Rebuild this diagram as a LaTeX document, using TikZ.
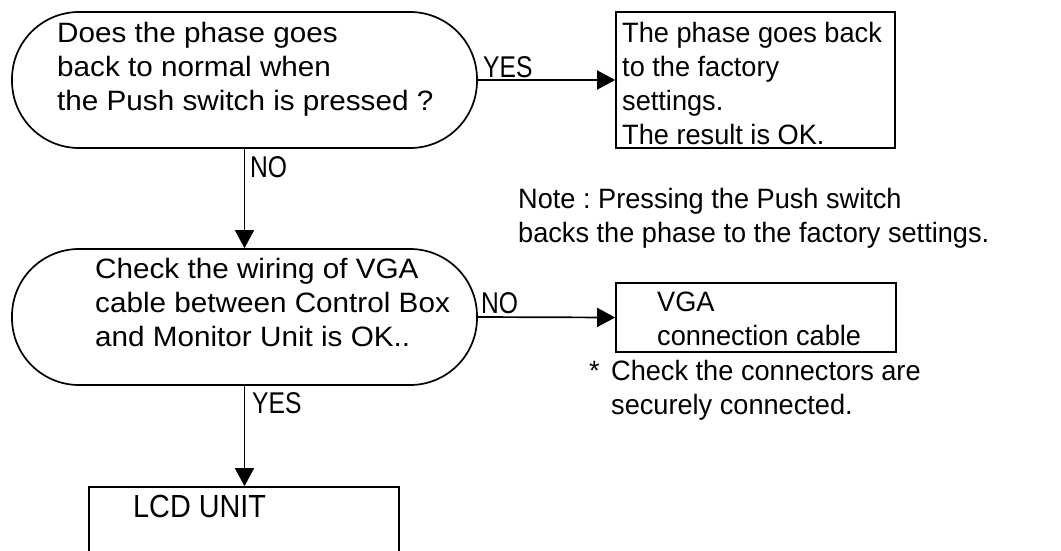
\documentclass[tikz,border=0pt]{standalone}
\usepackage{fontspec}
\setmainfont{Liberation Sans}[FakeStretch=0.97]
\newfontfamily\shapefont{Liberation Sans}[FakeStretch=1.06]
\newfontfamily\labfont{Liberation Sans}[FakeStretch=0.82]
\newfontfamily\lcdfont{Liberation Sans}[FakeStretch=0.9]
\usetikzlibrary{arrows.meta}
\frenchspacing
\newcommand{\mylines}[1]{\begin{tabular}[t]{@{}l@{}}#1\end{tabular}}
\begin{document}
\begin{tikzpicture}[x=1pt,y=-1pt,
  stadium/.style={draw, line width=1.7pt, rounded corners=67pt, inner sep=0pt},
  boxnode/.style={draw, line width=1.7pt, inner sep=0pt},
  btext/.style={anchor=base west, inner sep=0pt, font=\frenchspacing\fontsize{28}{34}\selectfont},
  stext/.style={anchor=base west, inner sep=0pt, font=\frenchspacing\shapefont\fontsize{28}{34.3}\selectfont},
  ltext/.style={anchor=base west, inner sep=0pt, font=\labfont\fontsize{30}{34}\selectfont},
  arr/.style={line width=1.7pt, -{Triangle[length=18pt,width=19pt]}}]
\useasboundingbox (0,0) rectangle (1061,550);
\clip (0,0) rectangle (1061,550);
% shapes
\node[stadium, minimum width=465pt, minimum height=136pt] (q1) at (244.5,80) {};
\node[boxnode, minimum width=279pt, minimum height=136pt] (r1) at (755.5,80) {};
\node[stadium, minimum width=465pt, minimum height=136pt] (q2) at (244.5,317) {};
\node[boxnode, minimum width=280pt, minimum height=69pt] (r2) at (756,317.5) {};
\node[boxnode, minimum width=310pt, minimum height=150pt] (r3) at (244,562) {};
% texts
\node[stext] (t1) at (57,42) {\mylines{Does the phase goes\\back to normal when\\the Push switch is pressed ?}};
\node[btext] (t2) at (622,42) {\mylines{The phase goes back\\to the factory\\settings.\\The result is OK.}};
\node[btext] (note) at (518,208) {\mylines{Note : Pressing the Push switch\\backs the phase to the factory settings.}};
\node[stext] (t3) at (95,278) {\mylines{Check the wiring of VGA\\cable between Control Box\\and Monitor Unit is OK..}};
\node[btext] (t4) at (657,311) {\mylines{VGA\\connection cable}};
\node[btext] (t5) at (589,380) {\mylines{\makebox[22pt][l]{*}Check the connectors are\\\hspace{22pt}securely connected.}};
\node[anchor=base west, inner sep=0pt, font=\lcdfont\fontsize{32}{34}\selectfont] (t6) at (133,517) {LCD UNIT};
% labels
\node[ltext] (yes1) at (483,77) {YES};
\node[ltext] (no1) at (250,177) {NO};
\node[ltext] (no2) at (481,313) {NO};
\node[ltext] (yes2) at (252,413) {YES};
% connectors
\draw[arr] (q1.east) -- (r1.west);
\draw[arr] (q1.south) -- (q2.north);
\draw[arr] (q2.east) -- (r2.west);
\draw[arr] (q2.south) -- (q2.south |- r3.north);
\end{tikzpicture}
\end{document}
